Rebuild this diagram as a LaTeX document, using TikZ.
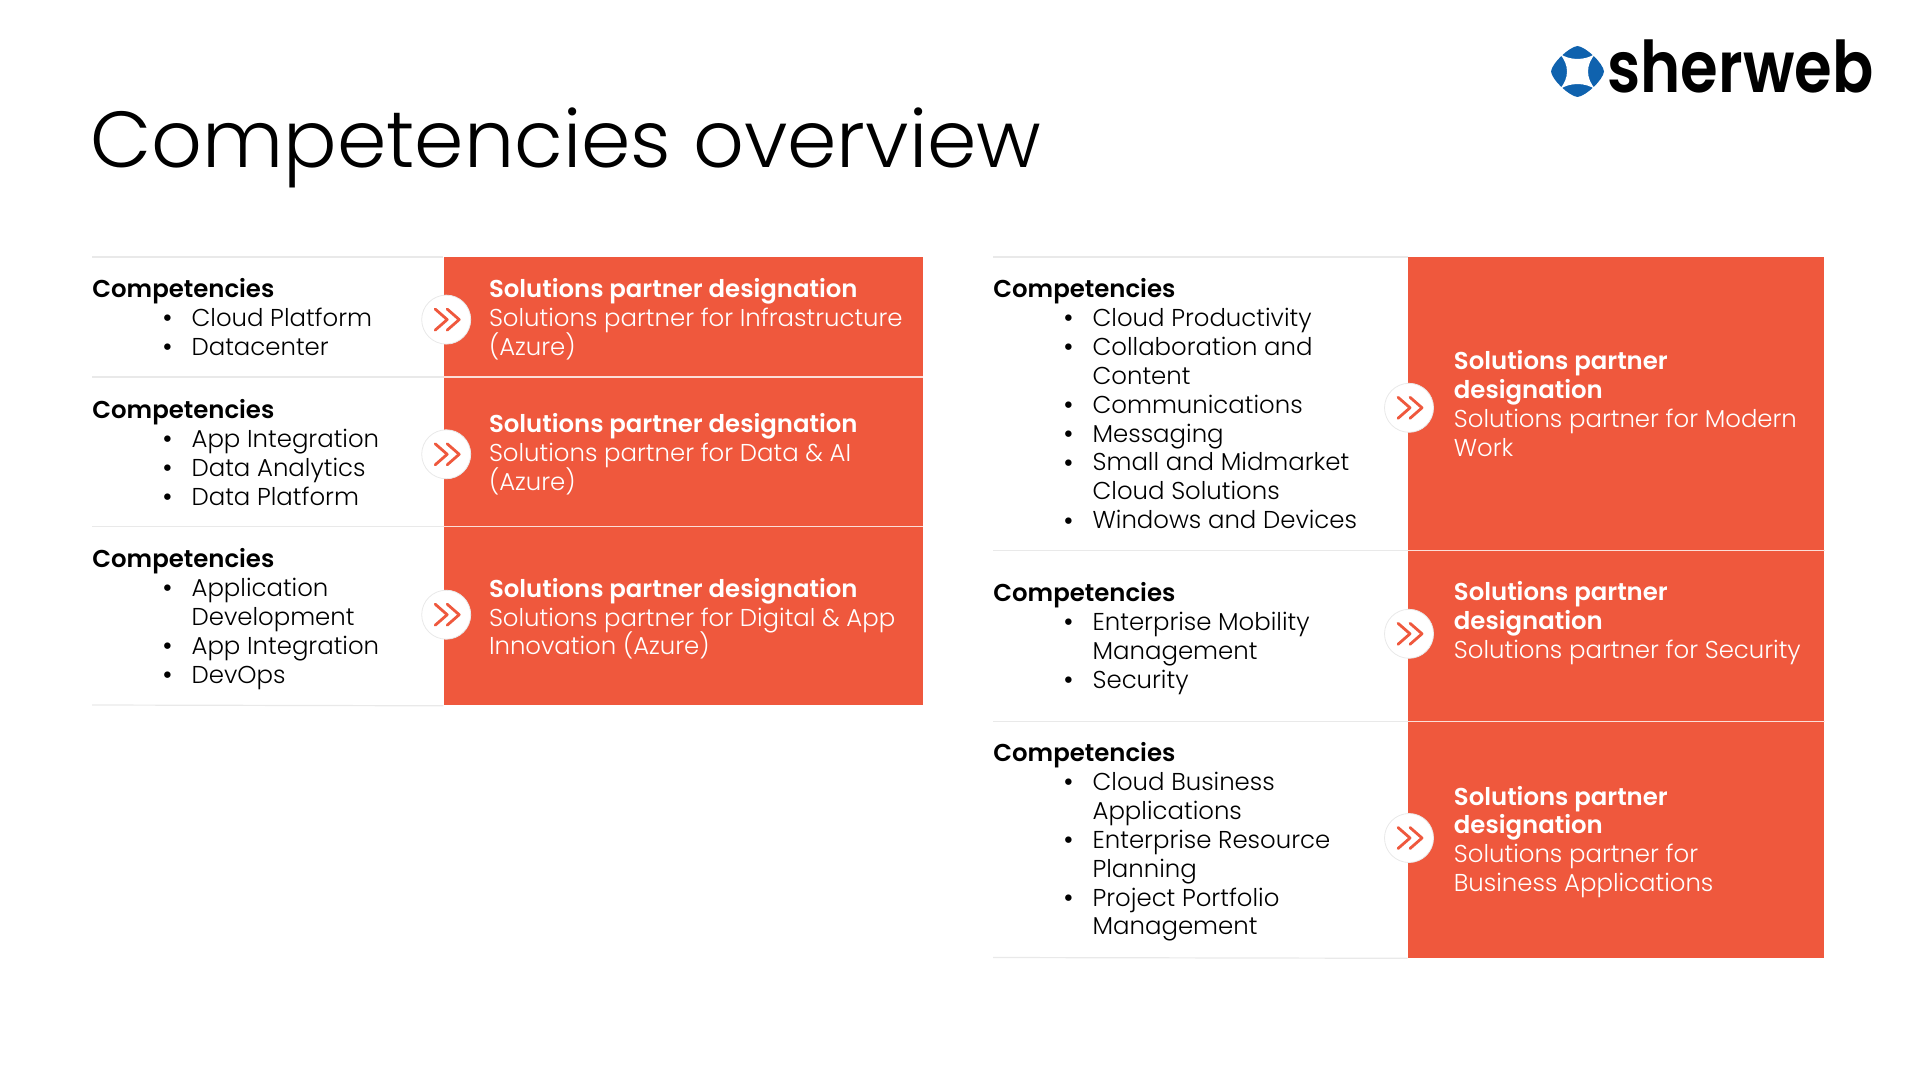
\documentclass[tikz,border=0pt]{standalone}
\usepackage{fontspec}
\usetikzlibrary{calc}
\setmainfont{Poppins}[UprightFont=* Light,BoldFont=* SemiBold]
\definecolor{redbox}{HTML}{EF583D}
\definecolor{rulegray}{HTML}{E9E9E9}
\definecolor{logoblue}{HTML}{0F62AE}
\newcommand{\bodyfont}{\fontsize{12.2}{14.45}\selectfont}
\setlength{\lineskiplimit}{-10pt}
\setlength{\normallineskiplimit}{-10pt}
\tikzset{
  redpanel/.style={fill=redbox,draw=none,inner sep=0pt,anchor=north west},
  grayrule/.style={draw=rulegray,line width=0.6pt},
  whiterule/.style={draw=white!80!redbox,line width=0.6pt},
  roundel/.style={circle,fill=white,draw=rulegray,line width=0.4pt,minimum size=24.5pt,inner sep=0pt},
  chevron/.style={draw=redbox,line width=1.4pt,line cap=round,line join=round},
  listtext/.style={anchor=north west,align=left,inner sep=0pt,font=\bodyfont,text=black},
  paneltext/.style={anchor=west,align=left,inner sep=0pt,font=\bodyfont,text=white}
}
\newcommand{\bul}[1]{\hspace*{49.6pt}\makebox[0pt][r]{\raisebox{-0.7pt}{\fontsize{14}{14}\selectfont\textbullet}\hspace{9.5pt}}#1}
\newcommand{\cnt}[1]{\hspace*{49.6pt}#1}
\newcommand{\chev}[1]{%
\draw[chevron] ($(#1)+(-11,-10.5)$)--($(#1)+(1,0)$)--($(#1)+(-11,10.5)$);
\draw[chevron] ($(#1)+(1,-10.5)$)--($(#1)+(13,0)$)--($(#1)+(1,10.5)$);}
\begin{document}
\begin{tikzpicture}[x=0.5pt,y=-0.5pt]
\useasboundingbox (0,0) rectangle (1920,1080);
\node[anchor=base west,inner sep=0pt,font=\fontsize{39.7}{44}\selectfont] (title) at (90,168) {Competencies overview};

\fill[logoblue] (1577.5,46)..controls (1586,47) and (1603,63) ..(1604,71.5)..controls (1603,80) and (1586,96) ..(1577.5,97)..controls (1569,96) and (1552,80) ..(1551,71.5)..controls (1552,63) and (1569,47) ..(1577.5,46)--cycle;
\fill[white] (1559.5,53.5)..controls (1569.5,60.8) and (1585.5,60.8) ..(1595.5,53.5)..controls (1585.5,65) and (1585.5,78) ..(1595.5,89.5)..controls (1585.5,82.2) and (1569.5,82.2) ..(1559.5,89.5)..controls (1569.5,78) and (1569.5,65) ..(1559.5,53.5)--cycle;
\node[anchor=base west,inner sep=0pt] (logo) at (1607,92.7) {\resizebox{133pt}{26.35pt}{\bfseries sherweb}};

\node[redpanel,minimum width=239.6pt,minimum height=60pt] (r1) at (443.3,257) {};
\node[redpanel,minimum width=239.6pt,minimum height=74.75pt] (r2) at (443.3,377) {};
\node[redpanel,minimum width=239.6pt,minimum height=89.25pt] (r3) at (443.3,526.5) {};
\node[redpanel,minimum width=208pt,minimum height=146.65pt] (r4) at (1407.7,257) {};
\node[redpanel,minimum width=208pt,minimum height=85.5pt] (r5) at (1407.7,550.3) {};
\node[redpanel,minimum width=208pt,minimum height=118.1pt] (r6) at (1407.7,721.3) {};

\coordinate (la) at (92,257);
\coordinate (lb) at (92,377);
\coordinate (lc) at (92,526.5);
\coordinate (ld) at (92,705);
\coordinate (ra) at (993,257);
\coordinate (rb) at (993,550.3);
\coordinate (rc) at (993,721.3);
\coordinate (rd) at (993,957.5);
\draw[grayrule] (la)--(r1.north west);
\draw[grayrule] (lb)--(r2.north west);
\draw[grayrule] (lc)--(r3.north west);
\draw[grayrule] (ld)--(r3.south west);
\draw[grayrule] (ra)--(r4.north west);
\draw[grayrule] (rb)--(r5.north west);
\draw[grayrule] (rc)--(r6.north west);
\draw[grayrule] (rd)--(r6.south west);
\draw[whiterule] (r2.north west)--(r2.north east);
\draw[whiterule] (r3.north west)--(r3.north east);
\draw[whiterule] (r5.north west)--(r5.north east);
\draw[whiterule] (r6.north west)--(r6.north east);

\node[listtext] (t1) at (92,278) {\textbf{Competencies}\\\bul{Cloud Platform}\\\bul{Datacenter}};
\node[listtext] (t2) at (92,399) {\textbf{Competencies}\\\bul{App Integration}\\\bul{Data Analytics}\\\bul{Data Platform}};
\node[listtext] (t3) at (92,548) {\textbf{Competencies}\\\bul{Application}\\\cnt{Development}\\\bul{App Integration}\\\bul{DevOps}};
\node[listtext] (t4) at (993,278) {\textbf{Competencies}\\\bul{Cloud Productivity}\\\bul{Collaboration and}\\\cnt{Content}\\\bul{Communications}\\\bul{Messaging}\\\bul{Small and Midmarket}\\\cnt{Cloud Solutions}\\\bul{Windows and Devices}};
\node[listtext] (t5) at (993,582) {\textbf{Competencies}\\\bul{Enterprise Mobility}\\\cnt{Management}\\\bul{Security}};
\node[listtext] (t6) at (993,742) {\textbf{Competencies}\\\bul{Cloud Business}\\\cnt{Applications}\\\bul{Enterprise Resource}\\\cnt{Planning}\\\bul{Project Portfolio}\\\cnt{Management}};

\node[paneltext] (p1) at (488.6,319) {\textbf{Solutions partner designation}\\Solutions partner for Infrastructure\\(Azure)};
\node[paneltext] (p2) at (488.6,454.5) {\textbf{Solutions partner designation}\\Solutions partner for Data \& AI\\(Azure)};
\node[paneltext] (p3) at (488.6,618.8) {\textbf{Solutions partner designation}\\Solutions partner for Digital \& App\\Innovation (Azure)};
\node[paneltext] (p4) at (1453.5,403.5) {\textbf{Solutions partner}\\\textbf{designation}\\Solutions partner for Modern\\Work};
\node[paneltext] (p5) at (1453.5,623) {\textbf{Solutions partner}\\\textbf{designation}\\Solutions partner for Security};
\node[paneltext] (p6) at (1453.5,842) {\textbf{Solutions partner}\\\textbf{designation}\\Solutions partner for\\Business Applications};

\node[roundel] (c1) at (446.2,319.6) {};
\node[roundel] (c2) at (446.2,454.3) {};
\node[roundel] (c3) at (446.2,614.7) {};
\node[roundel] (c4) at (1409,407.8) {};
\node[roundel] (c5) at (1409,633.8) {};
\node[roundel] (c6) at (1409,838) {};
\chev{c1}
\chev{c2}
\chev{c3}
\chev{c4}
\chev{c5}
\chev{c6}
\end{tikzpicture}
\end{document}
